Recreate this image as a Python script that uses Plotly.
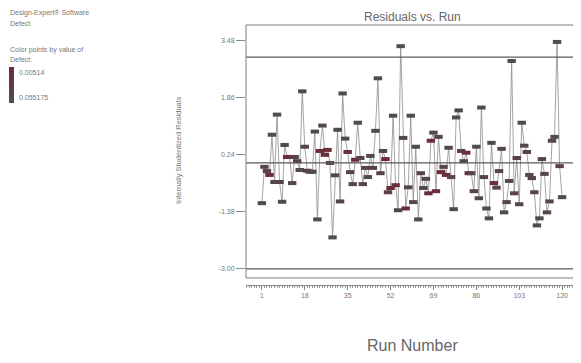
import plotly.graph_objects as go

residuals = [
    -1.14, -0.11, -0.23, -0.34, 0.80, -0.54, 1.37, -0.54, -1.10, 0.51,
    0.17, 0.17, -0.57, 0.17, 0.05, -0.20, 2.03, 0.46, -0.22, -0.25,
    -0.25, 0.89, -1.60, 0.34, 1.06, 0.23, 0.37, 0.00, -2.11, -0.35,
    0.94, -1.09, 1.97, 0.69, 0.31, -0.26, -0.60, 0.09, 1.14, 0.14,
    -0.60, -0.14, -0.40, 0.20, -0.14, 0.91, 2.40, -0.29, 0.34, 0.11,
    -0.83, -0.71, 1.34, -0.63, -1.34, 3.31, 0.71, -1.29, -0.69, 1.34,
    -1.11, 0.46, -1.60, -0.29, -0.71, -0.45, -0.86, 0.63, 0.86, -0.80,
    0.74, -0.26, -0.11, -0.34, 0.43, -0.40, -1.31, 1.29, 1.49, 0.34,
    0.05, 0.29, -0.29, -0.29, -0.80, 0.46, -1.00, 1.57, -0.40, -1.29,
    -1.57, 0.57, -0.57, -0.70, -0.23, 0.40, -1.40, -1.11, -0.51, 2.89,
    -0.86, 0.14, -1.17, 1.14, 0.49, 0.31, -0.34, -0.43, -0.83, -1.77,
    -1.57, 0.11, -0.31, -1.40, -1.09, 0.63, 0.74, 3.43, -0.09, -0.97,
]
runs = list(range(1, len(residuals) + 1))

defect = [
    0.012, 0.018, 0.021, 0.048, 0.010, 0.015, 0.009, 0.020, 0.011, 0.014,
    0.052, 0.050, 0.016, 0.019, 0.022, 0.013, 0.008, 0.017, 0.024, 0.021,
    0.012, 0.010, 0.009, 0.053, 0.014, 0.049, 0.051, 0.018, 0.011, 0.016,
    0.013, 0.015, 0.007, 0.012, 0.047, 0.019, 0.020, 0.054, 0.010, 0.022,
    0.015, 0.018, 0.013, 0.012, 0.019, 0.011, 0.006, 0.021, 0.017, 0.050,
    0.023, 0.052, 0.009, 0.048, 0.015, 0.005, 0.013, 0.055, 0.016, 0.012,
    0.014, 0.018, 0.010, 0.020, 0.017, 0.015, 0.049, 0.051, 0.012, 0.047,
    0.019, 0.053, 0.016, 0.050, 0.014, 0.018, 0.011, 0.010, 0.013, 0.022,
    0.017, 0.048, 0.052, 0.016, 0.019, 0.012, 0.014, 0.009, 0.020, 0.015,
    0.011, 0.013, 0.050, 0.018, 0.016, 0.021, 0.012, 0.014, 0.017, 0.008,
    0.019, 0.022, 0.013, 0.010, 0.015, 0.020, 0.018, 0.016, 0.021, 0.012,
    0.011, 0.023, 0.017, 0.013, 0.015, 0.018, 0.014, 0.007, 0.024, 0.012,
]
defect_min, defect_max = 0.00514, 0.055175

ref_lines = [-3.0, 0.0, 3.0]
x_ticks = [1, 18, 35, 52, 69, 86, 103, 120]
y_tickvals = [-3.00, -1.38, 0.24, 1.86, 3.48]
y_ticktext = ["-3.00", "-1.38", "0.24", "1.86", "3.48"]

FONT = "Liberation Sans, Arial, sans-serif"
cscale = [[0, "#4e4e52"], [1, "#6e2a36"]]

# page body has an 8px margin; figure is sized/offset to compensate
OFF = 8
W, H = 581 - OFF, 363 - OFF
L, T, PW, PH = 246 - OFF, 25 - OFF, 332, 260


def px_x(px):
    return (px - OFF - L) / PW


def px_y(py):
    return (T + PH - (py - OFF)) / PH


fig = go.Figure()
fig.add_trace(go.Scatter(
    x=runs, y=residuals, mode="lines",
    line=dict(color="#8c8c8c", width=0.8), hoverinfo="skip", showlegend=False,
))
fig.add_trace(go.Scatter(
    x=runs, y=residuals, mode="markers", showlegend=False,
    marker=dict(
        symbol="line-ew", size=6,
        color=defect, colorscale=cscale, cmin=defect_min, cmax=defect_max,
        line=dict(width=4, color=defect, colorscale=cscale,
                  cmin=defect_min, cmax=defect_max),
        showscale=True,
        colorbar=dict(
            x=px_x(9), xanchor="left", xpad=0, ypad=0,
            y=px_y(85), yanchor="middle",
            thickness=5, thicknessmode="pixels", len=36, lenmode="pixels",
            outlinewidth=0, showticklabels=False, ticks="",
        ),
    ),
))

shapes = []
for v in ref_lines:
    shapes.append(dict(type="line", xref="x domain", x0=0, x1=1, yref="y", y0=v, y1=v,
                       line=dict(color="#5a5a5a", width=1.2)))
shapes.append(dict(type="rect", xref="x domain", x0=0, x1=1, yref="y domain", y0=0, y1=1,
                   line=dict(color="#7a7a7a", width=1)))

small = dict(family=FONT, size=7, color="#777777")
annotations = [
    dict(text="Design-Expert® Software", x=px_x(8), y=px_y(13)),
    dict(text="Defect", x=px_x(8), y=px_y(23)),
    dict(text="Color points by value of", x=px_x(8), y=px_y(50)),
    dict(text="Defect:", x=px_x(8), y=px_y(60)),
    dict(text="0.00514", x=px_x(17), y=px_y(72)),
    dict(text="0.055175", x=px_x(17), y=px_y(97)),
]
annotations = [dict(a, xref="paper", yref="paper", xanchor="left", yanchor="middle",
                    showarrow=False, font=small) for a in annotations]
annotations.append(dict(text="Internally Studentized Residuals", xref="paper", yref="paper",
                        x=px_x(178), y=px_y(151), textangle=-90, showarrow=False,
                        xanchor="center", yanchor="middle",
                        font=dict(family=FONT, size=7.5, color="#777777")))
annotations.append(dict(text="Run Number", xref="paper", yref="paper",
                        x=px_x(412), y=px_y(345), showarrow=False,
                        xanchor="center", yanchor="middle",
                        font=dict(family=FONT, size=16, color="#666666")))
annotations.append(dict(text="Residuals vs. Run", xref="paper", yref="paper",
                        x=px_x(412), y=px_y(17), showarrow=False,
                        xanchor="center", yanchor="middle",
                        font=dict(family=FONT, size=12, color="#666666")))

fig.update_layout(
    width=W, height=H,
    margin=dict(l=L, r=W - L - PW, t=T, b=H - T - PH, autoexpand=False),
    paper_bgcolor="white", plot_bgcolor="white",
    xaxis=dict(
        range=[-5.3, 126.3], anchor="free", position=0,
        showgrid=False, zeroline=False, showline=True, linecolor="#8a8a8a", linewidth=1,
        tickvals=x_ticks, ticks="outside", ticklen=4, tickcolor="#8a8a8a",
        minor=dict(dtick=1, tick0=1, ticks="outside", ticklen=2, tickcolor="#9a9a9a"),
        tickfont=dict(family=FONT, size=7, color="#777777"),
    ),
    yaxis=dict(
        domain=[0.027, 1], range=[-3.26, 3.91],
        showgrid=False, zeroline=False, showline=False,
        tickvals=y_tickvals, ticktext=y_ticktext, ticks="outside", ticklen=9,
        tickcolor="#8a8a8a", tickfont=dict(family=FONT, size=7, color="#777777"),
    ),
    shapes=shapes, annotations=annotations,
)

fig.write_html("out.html")
